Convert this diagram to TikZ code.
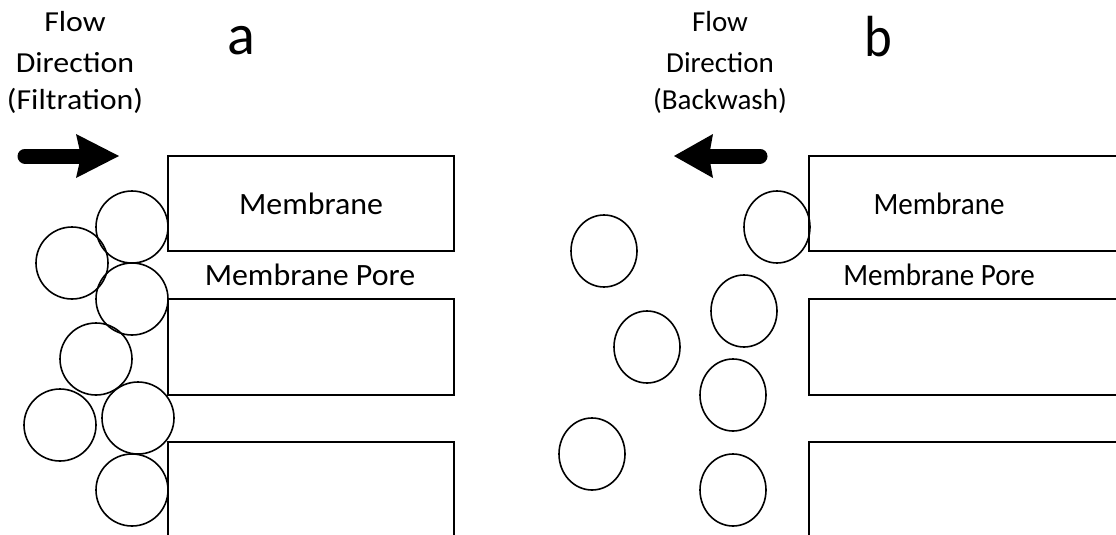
\documentclass[tikz,border=0pt]{standalone}
\usepackage{fontspec}
\setmainfont{Carlito}
\usetikzlibrary{shapes.geometric}
\begin{document}
\begin{tikzpicture}[x=1pt,y=-1pt,
  wall/.style={line width=1.8pt,line join=miter},
  particle/.style={circle,draw,line width=1.6pt,minimum size=72pt,inner sep=0pt},
  particleb/.style={ellipse,draw,line width=1.6pt,minimum width=66pt,minimum height=72pt,inner sep=0pt},
  lbl/.style={font=\fontsize{31}{37}\selectfont,anchor=base,inner sep=0pt,xscale=1.03},
  flowlbl/.style={font=\fontsize{29}{35}\selectfont,anchor=base,inner sep=0pt,xscale=1.1},
  panel/.style={font=\fontsize{58}{60}\selectfont,anchor=base,inner sep=0pt},
  squeeze/.style={xscale=0.91}]
\useasboundingbox (0,0) rectangle (1116,535);

% ---------------- panel a: filtration ----------------
\node[panel] (pa) at (241,55) {a};
\node[flowlbl] (fa1) at (75,32) {Flow};
\node[flowlbl] (fa2) at (75,72) {Direction};
\node[flowlbl] (fa3) at (75,109) {(Filtration)};

% flow arrow pointing towards the membrane
\draw[line width=15pt,line cap=round] (25,156) -- (82,156);
\fill (119,156) -- (76,134) -- (81,156) -- (76,178) -- cycle;

% membrane blocks
\draw[wall] (168,156) rectangle (454,251);
\draw[wall] (168,299) rectangle (454,395);
\draw[wall] (168,535) -- (168,442) -- (454,442) -- (454,535);
\node[lbl] (ma) at (311,214) {Membrane};
\node[lbl] (pora) at (310,285) {Membrane Pore};

% cake of particles on the membrane surface
\node[particle] (a1) at (132,227) {};
\node[particle] (a2) at (72,263) {};
\node[particle] (a3) at (132,299) {};
\node[particle] (a4) at (96,359) {};
\node[particle] (a5) at (60,425) {};
\node[particle] (a6) at (138,418) {};
\node[particle] (a7) at (132,490) {};

% ---------------- panel b: backwash ----------------
\node[panel,squeeze] (pb) at (878,57) {b};
\node[flowlbl,squeeze] (fb1) at (720,32) {Flow};
\node[flowlbl,squeeze] (fb2) at (720,72) {Direction};
\node[flowlbl,squeeze] (fb3) at (720,109) {(Backwash)};

% flow arrow pointing away from the membrane
\draw[line width=15pt,line cap=round] (760,156) -- (708,156);
\fill (674,156) -- (713,134) -- (709,156) -- (713,178) -- cycle;

% membrane blocks
\draw[wall] (1116,156) -- (809,156) -- (809,251) -- (1116,251);
\draw[wall] (1116,299) -- (809,299) -- (809,395) -- (1116,395);
\draw[wall] (1116,442) -- (809,442) -- (809,535);
\node[lbl,squeeze] (mb) at (939,214) {Membrane};
\node[lbl,squeeze] (porb) at (939,285) {Membrane Pore};

% particles released from the surface
\node[particleb] (b1) at (777,227) {};
\node[particleb] (b2) at (604,251) {};
\node[particleb] (b3) at (744,311) {};
\node[particleb] (b4) at (647,347) {};
\node[particleb] (b5) at (733,395) {};
\node[particleb] (b6) at (592,454) {};
\node[particleb] (b7) at (733,490) {};
\end{tikzpicture}
\end{document}
